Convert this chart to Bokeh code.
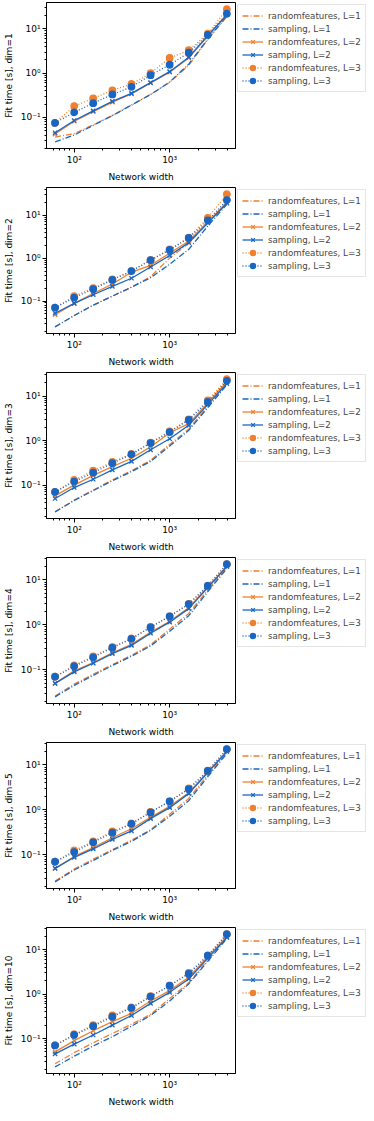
import math
from bokeh.plotting import figure
from bokeh.models import Range1d, FixedTicker, CustomJSTickFormatter, Legend, LegendItem
from bokeh.layouts import column
from bokeh.embed import file_html
from bokeh.resources import INLINE

# ---------------- data ----------------
widths = [63, 100, 158, 251, 398, 631, 1000, 1585, 2512, 3981]
dims = [1, 2, 3, 4, 5, 10]

rf_L1 = {
    1: [0.036, 0.043, 0.068, 0.11, 0.19, 0.33, 0.62, 1.5, 5.8, 19],
    2: [0.025, 0.046, 0.08, 0.13, 0.21, 0.37, 1.0, 2.2, 6.8, 20],
    3: [0.025, 0.046, 0.077, 0.13, 0.21, 0.36, 0.82, 1.8, 6.0, 19],
    4: [0.026, 0.048, 0.08, 0.13, 0.21, 0.36, 0.8, 1.8, 6.0, 19],
    5: [0.026, 0.048, 0.08, 0.13, 0.21, 0.36, 0.8, 1.8, 6.0, 19],
    10: [0.027, 0.048, 0.08, 0.13, 0.21, 0.35, 0.8, 1.8, 6.0, 19],
}
s_L1 = {
    1: [0.028, 0.040, 0.066, 0.11, 0.19, 0.33, 0.63, 1.6, 5.9, 20],
    2: [0.025, 0.046, 0.08, 0.13, 0.21, 0.35, 0.72, 1.6, 5.6, 18],
    3: [0.025, 0.045, 0.075, 0.125, 0.2, 0.34, 0.75, 1.7, 5.5, 18],
    4: [0.025, 0.045, 0.075, 0.125, 0.2, 0.34, 0.72, 1.6, 5.5, 18],
    5: [0.025, 0.046, 0.075, 0.125, 0.2, 0.35, 0.72, 1.6, 5.5, 18],
    10: [0.023, 0.040, 0.068, 0.11, 0.19, 0.33, 0.7, 1.7, 5.5, 18],
}
rf_L2 = {
    1: [0.042, 0.082, 0.135, 0.22, 0.34, 0.6, 1.05, 2.2, 7.0, 21],
    2: [0.048, 0.088, 0.15, 0.25, 0.47, 0.68, 1.3, 2.5, 7.0, 20],
    3: [0.058, 0.1, 0.165, 0.26, 0.4, 0.72, 1.5, 2.4, 7.0, 21],
    4: [0.05, 0.095, 0.145, 0.24, 0.37, 0.68, 1.2, 2.4, 7.0, 20],
    5: [0.05, 0.092, 0.145, 0.24, 0.38, 0.68, 1.2, 2.4, 7.0, 20],
    10: [0.05, 0.09, 0.15, 0.24, 0.37, 0.7, 1.2, 2.4, 7.0, 20],
}
s_L2 = {
    1: [0.045, 0.085, 0.14, 0.23, 0.35, 0.61, 1.08, 2.3, 7.0, 21],
    2: [0.052, 0.088, 0.14, 0.22, 0.34, 0.62, 1.15, 2.3, 6.6, 19],
    3: [0.05, 0.088, 0.135, 0.22, 0.34, 0.62, 1.1, 2.2, 6.5, 19],
    4: [0.05, 0.09, 0.14, 0.23, 0.35, 0.65, 1.15, 2.3, 6.8, 20],
    5: [0.05, 0.088, 0.135, 0.22, 0.34, 0.64, 1.12, 2.3, 6.8, 20],
    10: [0.045, 0.075, 0.12, 0.2, 0.33, 0.62, 1.1, 2.2, 6.5, 19],
}
rf_L3 = {
    1: [0.075, 0.18, 0.27, 0.41, 0.57, 1.0, 2.2, 3.3, 7.8, 28],
    2: [0.07, 0.13, 0.2, 0.32, 0.5, 0.9, 1.6, 3.0, 8.7, 31],
    3: [0.07, 0.13, 0.21, 0.33, 0.5, 0.9, 1.6, 3.0, 8.0, 24],
    4: [0.07, 0.125, 0.2, 0.32, 0.5, 0.9, 1.55, 2.95, 7.5, 22.5],
    5: [0.07, 0.125, 0.2, 0.33, 0.5, 0.9, 1.55, 3.0, 7.5, 22.5],
    10: [0.07, 0.125, 0.2, 0.33, 0.5, 0.9, 1.55, 3.0, 7.5, 22.5],
}
s_L3 = {
    1: [0.075, 0.13, 0.21, 0.33, 0.49, 0.9, 1.55, 2.9, 7.3, 22],
    2: [0.07, 0.12, 0.19, 0.31, 0.5, 0.9, 1.55, 2.95, 7.6, 22.5],
    3: [0.07, 0.12, 0.19, 0.31, 0.49, 0.88, 1.55, 2.9, 7.4, 22],
    4: [0.07, 0.12, 0.19, 0.31, 0.49, 0.88, 1.55, 2.9, 7.4, 22.5],
    5: [0.07, 0.115, 0.19, 0.31, 0.49, 0.88, 1.55, 2.9, 7.4, 22.5],
    10: [0.07, 0.12, 0.19, 0.31, 0.49, 0.88, 1.55, 2.9, 7.4, 22.5],
}

ORANGE = "#f07f2e"
BLUE = "#1866c4"
DASHDOT = "6 2 1 2"
DOTTED = "1 2"
FONT = "DejaVu Sans"

series = [
    ("randomfeatures, L=1", rf_L1, ORANGE, DASHDOT, None),
    ("sampling, L=1", s_L1, BLUE, DASHDOT, None),
    ("randomfeatures, L=2", rf_L2, ORANGE, "solid", "x"),
    ("sampling, L=2", s_L2, BLUE, "solid", "x"),
    ("randomfeatures, L=3", rf_L3, ORANGE, DOTTED, "circle"),
    ("sampling, L=3", s_L3, BLUE, DOTTED, "circle"),
]

sup_code = """
const m = {"-":"\u207b","0":"\u2070","1":"\u00b9","2":"\u00b2","3":"\u00b3","4":"\u2074","5":"\u2075","6":"\u2076","7":"\u2077","8":"\u2078","9":"\u2079"};
const e = Math.round(Math.log10(tick));
return "10" + String(e).split("").map(c => m[c]).join("");
"""

x_major = [10, 100, 1000, 10000]
x_minor = [k * 10 ** e for e in range(1, 4) for k in range(2, 10)]
y_major = [0.001, 0.01, 0.1, 1, 10, 100]
y_minor = [k * 10.0 ** e for e in range(-3, 2) for k in range(2, 10)]


def log_range(vals):
    lo, hi = math.log10(min(vals)), math.log10(max(vals))
    pad = 0.05 * (hi - lo)
    return Range1d(10 ** (lo - pad), 10 ** (hi + pad))


figs = []
for i, d in enumerate(dims):
    all_y = [v for _, dat, _, _, _ in series for v in dat[d]]
    last = i == len(dims) - 1
    p = figure(
        x_axis_type="log", y_axis_type="log",
        x_range=log_range(widths), y_range=log_range(all_y),
        frame_width=189, frame_height=146,
        min_border_left=40, min_border_right=0,
        min_border_top=2, min_border_bottom=30 if last else 37,
        output_backend="svg", toolbar_location=None,
        background_fill_color="white", border_fill_color="white",
    )
    p.grid.visible = False
    p.outline_line_color = "black"
    p.outline_line_width = 1

    items = []
    for name, dat, col, dash, marker in series:
        ys = dat[d]
        rs = [p.line(widths, ys, line_color=col, line_width=1.3, line_dash=dash)]
        if marker is not None:
            rs.append(p.scatter(widths, ys, marker=marker, size=6 if marker == "x" else 6.5,
                                line_color=col, fill_color=col, line_width=1.3))
        items.append(LegendItem(label=name, renderers=rs))

    leg = Legend(items=items, location="top_left")
    leg.label_text_font = FONT
    leg.label_text_font_size = "8.7px"
    leg.label_height = 13
    leg.glyph_height = 13
    leg.glyph_width = 21
    leg.spacing = 0
    leg.padding = 4
    leg.margin = 2
    leg.label_standoff = 5
    leg.border_line_color = "#cccccc"
    leg.border_line_width = 1
    leg.background_fill_alpha = 0.85
    p.add_layout(leg, "right")

    p.xaxis.ticker = FixedTicker(ticks=x_major, minor_ticks=x_minor)
    p.yaxis.ticker = FixedTicker(ticks=y_major, minor_ticks=y_minor)
    for ax in (p.xaxis, p.yaxis):
        ax.formatter = CustomJSTickFormatter(code=sup_code)
        ax.axis_line_color = "black"
        ax.major_tick_line_color = "black"
        ax.minor_tick_line_color = "black"
        ax.major_tick_in = 0
        ax.major_tick_out = 4
        ax.minor_tick_in = 0
        ax.minor_tick_out = 2
        ax.major_label_text_font = FONT
        ax.major_label_text_font_size = "9px"
        ax.major_label_text_color = "black"
        ax.major_label_standoff = 2
        ax.axis_label_text_font = FONT
        ax.axis_label_text_font_size = "9px"
        ax.axis_label_text_font_style = "normal"
        ax.axis_label_text_color = "black"
        ax.axis_label_standoff = 4
    p.xaxis.axis_label = "Network width"
    p.yaxis.axis_label = f"Fit time [s], dim={d}"
    figs.append(p)

layout = column(*figs, spacing=0)
open("out.html", "w").write(file_html(layout, INLINE))
